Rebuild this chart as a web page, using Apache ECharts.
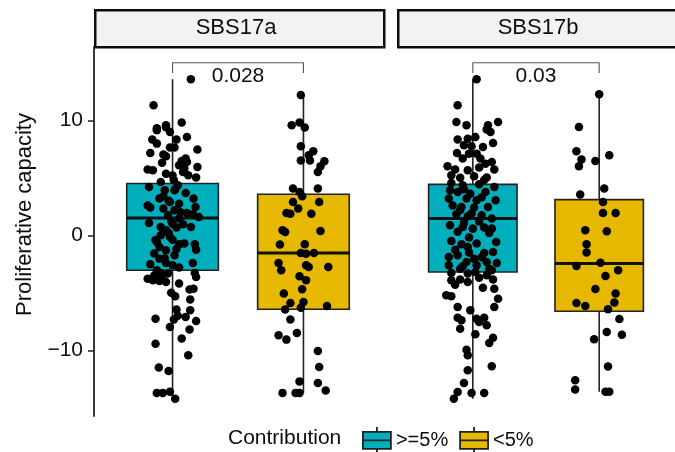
<!DOCTYPE html>
<html>
<head>
<meta charset="utf-8">
<script src="https://cdn.jsdelivr.net/npm/echarts@6/dist/echarts.min.js"></script>
<style>
  html, body { margin: 0; padding: 0; background: #fff; }
  #chart { width: 675px; height: 452px; }
</style>
</head>
<body>
<div id="chart"></div>
<script>
// facets / groups
var facets = ['SBS17a', 'SBS17b'];
var groups = ['>=5%', '<5%'];
var groupColors = ['#00AFBB', '#E7B800'];
var pValues = ['0.028', '0.03'];

// box stats: [x, min, q1, median, q3, max]
var boxA_hi = [1, -14.2, -3.04, 1.5, 4.5, 13.56];
var boxA_lo = [2, -13.7, -6.43, -1.54, 3.57, 12.2];
var boxB_hi = [1, -14.2, -3.19, 1.45, 4.43, 13.56];
var boxB_lo = [2, -13.6, -6.6, -2.46, 3.1, 12.26];

// bracket: [foot, top] and p label height
var bracketY = [14.1, 15.0];
var pLabelY = 13.85;

var yTicks = [-10, 0, 10];

// jittered points [x, value]
var ptsA_hi = [
    [1.14,13.56],[0.855,11.3],[1.07,9.8],[0.95,9.57],[0.88,9.13],[0.98,8.98],[1.11,8.55],[0.845,8.32],[1.03,8.32],[0.88,7.97],
    [0.98,7.63],[1.015,7.63],[1.19,7.45],[0.83,7.16],[0.93,7.02],[0.95,6.87],[1.1,6.67],[1.07,6.46],[1.11,6.37],[1.05,6.09],
    [1.19,5.94],[0.81,5.71],[0.85,5.65],[0.95,5.36],[1.08,5.5],[1.12,5.22],[1.18,5.02],[1.01,4.78],[0.91,4.63],[1.04,4.35],
    [0.82,4.2],[0.94,3.91],[1.015,3.91],[1.1,3.68],[0.93,3.39],[0.9,3.19],[1.16,3.19],[0.98,2.9],[1.05,2.75],[0.81,2.6],
    [0.83,2.41],[1.175,2.46],[0.93,2.32],[1.015,2.17],[1.11,1.94],[1.155,1.83],[1.2,1.59],[0.965,1.74],[1.05,1.45],[0.99,1.25],
    [0.82,1.07],[1.08,0.96],[0.91,0.72],[1.03,0.67],[1.14,0.72],[0.95,0.43],[0.91,0],[0.98,-0.14],[1.0,-0.38],[0.88,-0.58],
    [1.09,-0.72],[1.05,-0.78],[1.17,-0.78],[0.9,-1.01],[1.18,-1.25],[0.95,-1.3],[0.86,-1.59],[1.015,-1.74],[0.9,-2.03],[0.95,-2.41],
    [0.83,-2.52],[1.155,-2.41],[1.05,-2.81],[0.88,-3.04],[0.91,-3.28],[0.965,-3.33],[1.17,-3.28],[0.81,-3.77],[0.85,-3.91],[0.9,-3.97],
    [0.95,-4.06],[1.18,-3.62],[1.13,-4.72],[1.16,-4.64],[1.02,-5.3],[1.135,-5.59],[1.03,-6.46],[1.135,-6.52],[0.87,-7.25],[1.01,-7.33],
    [1.1,-7.1],[1.18,-7.45],[0.98,-7.97],[1.13,-8.2],[1.07,-8.98],[0.87,-9.42],[1.12,-10.43],[0.895,-11.5],[0.97,-11.8],[0.88,-13.7],
    [0.925,-13.7],[0.98,-13.6],[1.02,-14.2],[0.88,9.3],[0.95,9.4],[1.02,4.0],[0.97,3.0],[1.0,1.0],[0.97,0.2],[1.03,-1.2],
    [0.94,-2.0],[1.0,-2.6],[0.92,-3.6],[0.86,-3.5],[1.0,5.2],[0.92,6.3],[1.06,2.0],[0.87,-0.4],[1.09,5.8],[1.05,-4.2],
    [0.99,-5.0],[1.04,-7.0]
];
var ptsA_lo = [
    [1.98,12.2],[1.91,9.57],[1.97,9.8],[2.01,9.37],[1.98,7.74],[2.075,7.3],[2.04,6.96],[1.98,6.5],[2.05,6.5],[2.16,6.43],
    [2.13,6.0],[2.11,5.5],[1.92,4.06],[2.11,4.06],[1.97,3.77],[1.99,3.39],[1.92,2.9],[2.12,2.9],[1.96,2.32],[1.87,1.94],
    [1.9,1.88],[2.06,1.88],[1.84,0.43],[1.86,0.29],[2.13,0.38],[1.82,-0.81],[2.01,-0.78],[1.98,-1.54],[2.02,-1.6],[2.08,-1.54],
    [1.81,-2.4],[1.83,-3.04],[2.02,-2.6],[2.04,-2.75],[2.19,-2.75],[1.97,-3.57],[2.02,-3.9],[1.99,-4.7],[1.85,-5.07],[1.9,-5.88],
    [2.0,-5.8],[1.98,-6.29],[1.86,-6.46],[2.18,-6.14],[1.9,-7.33],[1.81,-8.7],[1.87,-9.07],[1.95,-8.49],[2.11,-10.06],[2.12,-11.45],
    [1.97,-12.7],[2.11,-12.84],[2.17,-13.5],[1.84,-13.7],[1.94,-13.7],[1.97,-13.7]
];
var ptsB_hi = [
    [1.03,13.56],[0.88,11.3],[0.87,9.85],[0.95,9.57],[1.2,9.85],[1.12,9.57],[1.14,8.98],[1.11,9.19],[0.88,8.32],[0.96,8.4],
    [1.02,8.55],[1.16,8.03],[0.93,7.83],[0.99,7.74],[1.08,7.68],[0.875,7.16],[0.97,7.1],[1.03,7.1],[0.92,6.67],[1.06,6.67],
    [1.15,6.37],[1.1,6.23],[0.8,6.0],[0.86,5.71],[0.96,5.65],[1.17,5.71],[0.83,5.22],[1.01,5.13],[1.11,5.02],[0.83,4.55],
    [0.92,4.35],[1.05,4.43],[1.17,4.2],[0.82,3.91],[0.88,3.77],[0.98,3.62],[1.1,3.77],[0.81,3.19],[0.95,3.19],[1.03,3.04],
    [1.18,3.04],[0.84,2.6],[0.91,2.46],[1.01,2.41],[1.12,2.46],[0.87,1.83],[0.96,1.65],[1.07,1.74],[1.15,1.45],[0.82,0.87],
    [0.92,0.72],[1.0,0.58],[1.09,0.67],[1.15,0.58],[0.83,-0.49],[0.91,-0.78],[1.03,-0.72],[1.185,-0.58],[0.86,-1.25],[0.96,-1.01],
    [1.09,-1.54],[0.88,-1.74],[1.16,-1.45],[0.81,-1.88],[1.01,-2.03],[0.95,-2.32],[1.11,-2.32],[1.19,-2.41],[0.81,-2.6],[0.9,-2.9],
    [1.03,-2.6],[1.15,-3.04],[0.83,-3.28],[0.96,-3.33],[1.02,-3.19],[1.11,-3.48],[0.83,-3.91],[0.9,-3.85],[0.96,-4.06],[1.16,-3.85],
    [1.08,-4.55],[1.17,-4.64],[0.79,-5.22],[0.83,-5.3],[1.2,-5.51],[0.88,-6.23],[1.17,-6.23],[0.98,-6.52],[0.88,-7.16],[1.03,-7.25],
    [1.09,-7.16],[0.91,-7.39],[1.05,-7.54],[0.9,-8.12],[1.11,-7.83],[1.02,-8.61],[1.16,-8.9],[1.13,-9.36],[0.95,-9.94],[0.96,-10.43],
    [1.15,-11.39],[0.96,-11.74],[0.93,-12.84],[0.88,-13.62],[0.85,-14.2],[0.99,-13.71],[1.09,-13.71],[0.9,5.0],[1.05,5.9],[0.93,4.0],
    [1.07,3.3],[0.9,2.2],[0.99,1.9],[1.05,1.2],[0.88,0.3],[0.97,-0.2],[1.07,-1.9],[0.92,-2.7],[1.05,-3.7],[0.86,-4.3],
    [1.13,-2.9],[0.93,1.1],[1.13,0.2],[0.97,-1.5],[1.09,4.8]
];
var ptsB_lo = [
    [2.0,12.26],[1.84,9.42],[1.82,7.3],[1.86,6.6],[1.84,6.0],[1.97,6.46],[2.08,6.96],[2.04,4.06],[1.85,3.54],[2.03,2.9],
    [2.03,1.94],[2.13,1.94],[1.89,0.43],[2.06,0.35],[1.9,-0.78],[1.9,-1.5],[1.82,-2.67],[2.01,-2.38],[2.15,-3.04],[2.05,-3.54],
    [1.97,-4.67],[2.13,-5.07],[2.12,-5.85],[1.82,-5.88],[1.89,-6.14],[2.07,-6.43],[2.16,-7.27],[2.06,-8.4],[2.18,-8.64],[1.96,-9.04],
    [2.07,-11.4],[1.81,-12.6],[1.81,-13.4],[2.05,-13.6],[2.08,-13.6]
];

var FONT = '"Liberation Sans", Arial, Helvetica, sans-serif';
var INK = '#0d0d0d';

function renderBox(params, api) {      // whisker + box + median
    var x = api.value(0);
    var bl = api.coord([x - 0.35, api.value(2)]);
    var tr = api.coord([x + 0.35, api.value(4)]);
    var wTop = api.coord([x, api.value(5)]);
    var wBot = api.coord([x, api.value(1)]);
    var med = api.coord([x, api.value(3)]);
    return {
        type: 'group',
        children: [
            { type: 'line', shape: { x1: wTop[0], y1: wTop[1], x2: wBot[0], y2: wBot[1] }, style: { stroke: '#222', lineWidth: 1.6 } },
            { type: 'rect', shape: { x: bl[0], y: tr[1], width: tr[0] - bl[0], height: bl[1] - tr[1] }, style: { fill: api.visual('color'), stroke: '#222', lineWidth: 1.6 } },
            { type: 'line', shape: { x1: bl[0], y1: med[1], x2: tr[0], y2: med[1] }, style: { stroke: '#111', lineWidth: 3 } }
        ]
    };
}

function boxSeries(idx, name, color, box) {
    return {
        type: 'custom', name: name, xAxisIndex: idx, yAxisIndex: idx,
        itemStyle: { color: color },
        renderItem: renderBox,
        encode: { x: 0, y: [1, 2, 3, 4, 5] },
        data: [box],
        silent: true
    };
}

function pointSeries(idx, pts) {
    return {
        type: 'scatter', name: 'points', xAxisIndex: idx, yAxisIndex: idx,
        symbolSize: 8.5, itemStyle: { color: '#000', opacity: 1 },
        data: pts, silent: true
    };
}

function bracketSeries(idx, p) {
    return [{
        type: 'line', name: 'bracket', xAxisIndex: idx, yAxisIndex: idx,
        symbol: 'none', lineStyle: { color: '#555', width: 1.1 },
        data: [[1, bracketY[0]], [1, bracketY[1]], [2, bracketY[1]], [2, bracketY[0]]],
        silent: true
    }, {
        type: 'scatter', name: 'p', xAxisIndex: idx, yAxisIndex: idx,
        symbolSize: 0, itemStyle: { opacity: 1 },
        label: { show: true, position: 'inside', formatter: p, fontSize: 21, color: INK, fontFamily: FONT },
        data: [[1.5, pLabelY]], silent: true
    }];
}

var yMin = -15.71, yMax = 16.37;

function yAxisFor(idx) {
    var ax = {
        type: 'value', gridIndex: idx, min: yMin, max: yMax,
        splitLine: { show: false },
        axisLine: { show: idx === 0, lineStyle: { color: '#222', width: 1.8 } },
        axisTick: { show: idx === 0, customValues: yTicks, length: 6, lineStyle: { color: '#222', width: 1.5 } },
        axisLabel: {
            show: idx === 0, customValues: yTicks, margin: 11, fontSize: 21, color: INK, fontFamily: FONT,
            formatter: function (v) { return String(v).replace('-', '\u2212'); }
        }
    };
    if (idx === 0) {
        ax.name = 'Proliferative capacity';
        ax.nameLocation = 'middle';
        ax.nameGap = 58;
        ax.nameTextStyle = { fontSize: 22, color: INK, fontFamily: FONT, padding: [0, 0, 0, 34] };
    }
    return ax;
}

var chart = echarts.init(document.getElementById('chart'), null, { renderer: 'canvas' });

var series = [
    boxSeries(0, groups[0], groupColors[0], boxA_hi),
    boxSeries(0, groups[1], groupColors[1], boxA_lo),
    pointSeries(0, ptsA_hi),
    pointSeries(0, ptsA_lo),
    boxSeries(1, groups[0], groupColors[0], boxB_hi),
    boxSeries(1, groups[1], groupColors[1], boxB_lo),
    pointSeries(1, ptsB_hi),
    pointSeries(1, ptsB_lo)
].concat(bracketSeries(0, pValues[0]), bracketSeries(1, pValues[1]));

var option = {
    animation: false,
    textStyle: { fontFamily: FONT },
    grid: [
        { left: 94, top: 47, width: 288, height: 369 },
        { left: 397, top: 47, width: 288, height: 369 }
    ],
    xAxis: [
        { type: 'value', gridIndex: 0, min: 0.4, max: 2.6, show: false },
        { type: 'value', gridIndex: 1, min: 0.4, max: 2.6, show: false }
    ],
    yAxis: [yAxisFor(0), yAxisFor(1)],
    title: {
        text: 'Contribution', left: 228, top: 428, padding: 0,
        textStyle: { fontSize: 21, fontWeight: 'normal', color: INK, fontFamily: FONT }
    },
    legend: {
        data: groups, left: 362, top: 426, padding: 0,
        itemWidth: 28, itemHeight: 27, itemGap: 11,
        icon: 'path://M0,5H28V22H0Z M0,13.5H28 M14,0V5 M14,22V27',
        itemStyle: { borderColor: '#222', borderWidth: 1.8 },
        textStyle: { fontSize: 20, color: INK, fontFamily: FONT },
        selectedMode: false
    },
    graphic: [
        { type: 'rect', left: 94, top: 9, shape: { width: 289, height: 37 }, style: { fill: '#f2f2f2', stroke: INK, lineWidth: 2.5 } },
        { type: 'text', x: 236, y: 28, style: { text: facets[0], align: 'center', verticalAlign: 'middle', font: '22px ' + FONT, fill: INK } },
        { type: 'rect', left: 397, top: 9, shape: { width: 290, height: 37 }, style: { fill: '#f2f2f2', stroke: INK, lineWidth: 2.5 } },
        { type: 'text', x: 538, y: 28, style: { text: facets[1], align: 'center', verticalAlign: 'middle', font: '22px ' + FONT, fill: INK } }
    ],
    series: series
};

chart.setOption(option);
</script>
</body>
</html>
